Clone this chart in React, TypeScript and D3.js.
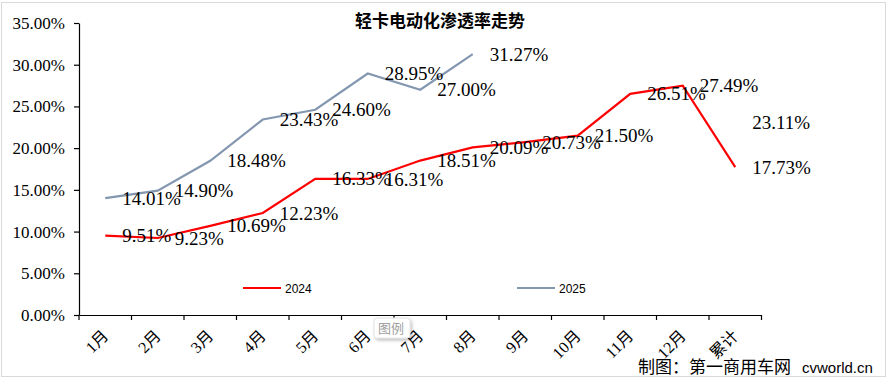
import { useEffect, useRef } from 'react';
import * as d3 from 'd3';

const months = ['1月', '2月', '3月', '4月', '5月', '6月', '7月', '8月', '9月', '10月', '11月', '12月', '累计'];
const series2024 = [9.51, 9.23, 10.69, 12.23, 16.33, 16.31, 18.51, 20.09, 20.73, 21.5, 26.51, 27.49, 17.73];
const series2025: (number | null)[] = [14.01, 14.9, 18.48, 23.43, 24.6, 28.95, 27.0, 31.27, null, null, null, null, 23.11];
const yTicks = [0, 5, 10, 15, 20, 25, 30, 35];

const RED = '#FF0000';
const GRAY = '#8497B0';
const labelFont = '"Liberation Serif", "Noto Sans CJK SC", serif';

const App = () => {
  const svgRef = useRef<SVGSVGElement | null>(null);

  useEffect(() => {
    if (!svgRef.current) return;
    const svg = d3.select(svgRef.current);
    svg.selectAll('*').remove();

    const width = 888;
    const height = 390;
    svg.attr('width', width).attr('height', height);

    // Outer frame
    svg.append('rect')
      .attr('x', 1.5)
      .attr('y', 2.5)
      .attr('width', 884)
      .attr('height', 374)
      .attr('fill', '#fff')
      .attr('stroke', '#d9d9d9')
      .attr('stroke-width', 1);

    // Scales
    const x = d3.scaleBand<string>().domain(months).range([79, 761.5]).padding(0);
    const cx = (m: string) => (x(m) as number) + x.bandwidth() / 2;
    const y = d3.scaleLinear().domain([0, 35]).range([315, 23]);

    // Title
    svg.append('text')
      .attr('x', 440)
      .attr('y', 27)
      .attr('text-anchor', 'middle')
      .attr('font-family', '"Noto Sans CJK SC", sans-serif')
      .attr('font-size', '17px')
      .attr('font-weight', 'bold')
      .attr('fill', '#000')
      .text('轻卡电动化渗透率走势');

    // Y axis
    const yAxis = svg.append('g').attr('transform', 'translate(79,0)')
      .call(d3.axisLeft(y).tickValues(yTicks).tickSize(5).tickSizeOuter(0)
        .tickFormat((d) => `${(d as number).toFixed(2)}%`));
    yAxis.select('.domain').attr('stroke', '#000').attr('stroke-width', 1.2);
    yAxis.selectAll('.tick line').attr('stroke', '#000').attr('stroke-width', 1.2);
    yAxis.selectAll('.tick text')
      .attr('x', -14)
      .attr('font-family', labelFont)
      .attr('font-size', '17px')
      .attr('fill', '#000');

    // X axis
    const xAxis = svg.append('g').attr('transform', 'translate(0,315)')
      .call(d3.axisBottom(x).tickSize(0).tickSizeOuter(0));
    xAxis.select('.domain').attr('stroke', '#000').attr('stroke-width', 1.2);
    const boundaries = months.map((m) => x(m) as number).concat([761.5]);
    xAxis.selectAll('line.bound')
      .data(boundaries)
      .enter()
      .append('line')
      .attr('class', 'bound')
      .attr('x1', (d) => d)
      .attr('x2', (d) => d)
      .attr('y1', 0)
      .attr('y2', 5)
      .attr('stroke', '#000')
      .attr('stroke-width', 1.2);
    xAxis.selectAll('.tick text')
      .attr('font-family', labelFont)
      .attr('font-size', '16px')
      .attr('fill', '#000')
      .attr('text-anchor', 'end')
      .attr('dy', null)
      .attr('y', null)
      .attr('transform', 'translate(4,22) rotate(-45)');

    // Lines
    const line = d3.line<number | null>()
      .defined((d) => d != null)
      .x((_, i) => cx(months[i]))
      .y((d) => y(d as number));

    const drawSeries = (values: (number | null)[], color: string) => {
      svg.append('path')
        .datum(values)
        .attr('d', line)
        .attr('fill', 'none')
        .attr('stroke', color)
        .attr('stroke-width', 2.2)
        .attr('stroke-linejoin', 'miter');

      svg.append('g')
        .selectAll('text')
        .data(values.map((v, i) => ({ v, m: months[i] })).filter((d) => d.v != null))
        .enter()
        .append('text')
        .attr('x', (d) => cx(d.m) + 17)
        .attr('y', (d) => y(d.v as number))
        .attr('dy', '0.35em')
        .attr('font-family', labelFont)
        .attr('font-size', '19px')
        .attr('fill', '#000')
        .text((d) => `${(d.v as number).toFixed(2)}%`);
    };

    drawSeries(series2024, RED);
    drawSeries(series2025, GRAY);

    // Legend
    const legend = [
      { name: '2024', color: RED, x: 243 },
      { name: '2025', color: GRAY, x: 517 },
    ];
    legend.forEach((item) => {
      svg.append('line')
        .attr('x1', item.x)
        .attr('x2', item.x + 38)
        .attr('y1', 288)
        .attr('y2', 288)
        .attr('stroke', item.color)
        .attr('stroke-width', 2.2);
      svg.append('text')
        .attr('x', item.x + 42)
        .attr('y', 292.5)
        .attr('font-family', '"Liberation Sans", Arial, sans-serif')
        .attr('font-size', '12px')
        .attr('fill', '#000')
        .text(item.name);
    });

    // "图例" tooltip
    const defs = svg.append('defs');
    const filter = defs.append('filter').attr('id', 'tipShadow').attr('x', '-30%').attr('y', '-30%').attr('width', '160%').attr('height', '170%');
    filter.append('feDropShadow')
      .attr('dx', 1.5)
      .attr('dy', 2)
      .attr('stdDeviation', 1.5)
      .attr('flood-color', '#000')
      .attr('flood-opacity', 0.25);
    svg.append('rect')
      .attr('x', 374)
      .attr('y', 318)
      .attr('width', 36)
      .attr('height', 20)
      .attr('rx', 3)
      .attr('fill', '#fff')
      .attr('stroke', '#e3e3e3')
      .attr('filter', 'url(#tipShadow)');
    svg.append('text')
      .attr('x', 391)
      .attr('y', 332.5)
      .attr('text-anchor', 'middle')
      .attr('font-family', '"Noto Sans CJK SC", sans-serif')
      .attr('font-size', '13px')
      .attr('fill', '#a0a0a0')
      .text('图例');

    // Footer
    const footer = svg.append('text')
      .attr('x', 638)
      .attr('y', 373)
      .attr('font-family', '"Noto Sans CJK SC", sans-serif')
      .attr('font-size', '17px')
      .attr('fill', '#000');
    footer.append('tspan').text('制图：第一商用车网');
    footer.append('tspan')
      .attr('x', 802)
      .attr('font-family', '"Liberation Sans", Arial, sans-serif')
      .attr('font-size', '15px')
      .text('cvworld.cn');
  }, []);

  return (
    <div style={{ position: 'fixed', left: 0, top: 0, width: 888, height: 390, background: '#fff' }}>
      <svg ref={svgRef} style={{ display: 'block' }}></svg>
    </div>
  );
};

export default App;
